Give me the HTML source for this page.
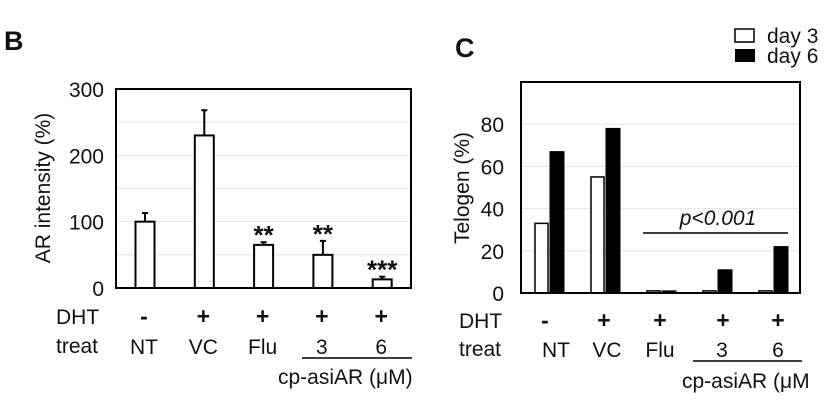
<!DOCTYPE html>
<html><head><meta charset="utf-8"><style>
html,body{margin:0;padding:0;background:#fff}
svg{display:block;font-family:"Liberation Sans",sans-serif}
</style></head><body>
<svg id="fig" width="824" height="402" viewBox="0 0 824 402" xmlns="http://www.w3.org/2000/svg"></svg>
<script>
const catsB = ["NT","VC","Flu","3","6"];
const valsB = [100,230,65,50,13];
const errB = [113,268,69,71,17];
const starsB = ["","","**","**","***"];
const ticksB = [0,100,200,300];
const gridB = [50,100,150,200,250];
const catsC = ["NT","VC","Flu","3","6"];
const day3 = [33,55,1,1,1];
const day6 = [67,78,1,11,22];
const ticksC = [0,20,40,60,80];
const dhtSigns = ["-","+","+","+","+"];

const svg = document.getElementById('fig');
const NS = "http://www.w3.org/2000/svg";
const FS = 21;
function mk(tag, attrs, parent){
  const e = document.createElementNS(NS, tag);
  for (const k in attrs) e.setAttribute(k, attrs[k]);
  (parent||svg).appendChild(e);
  return e;
}
function txt(x,y,s,size,anchor,extra){
  const t = mk('text',Object.assign({x:x,y:y,'font-size':size,'text-anchor':anchor||'middle',fill:'#111'},extra||{}));
  t.textContent = s; return t;
}

// ---------- Panel B ----------
const gB = mk('g',{});


const bL=116,bR=411,bT=89,bB=288,bMax=300;
const yB = v => bB - v/bMax*(bB-bT);
const xB = i => 145 + i*59.3;
for (const g of gridB){ const l=mk('line',{x1:bL,x2:bR,y1:yB(g),y2:yB(g),stroke:'#e4e4e4','stroke-width':1},gB);
    }
for (let i=0;i<catsB.length;i++){
  const x=xB(i);
  const e=mk('line',{x1:x,x2:x,y1:yB(errB[i]),y2:yB(valsB[i]),stroke:'#000','stroke-width':2},gB);
   
  const c=mk('line',{x1:x-3,x2:x+3,y1:yB(errB[i]),y2:yB(errB[i]),stroke:'#000','stroke-width':2},gB);
   
  const r=mk('rect',{x:x-9.5,y:yB(valsB[i]),width:19,height:bB-yB(valsB[i]),fill:'#fff',stroke:'#000','stroke-width':2},gB);
   
  if (starsB[i]){ const s=txt(x,yB(errB[i])+2,starsB[i],26,'middle',{'font-weight':'bold'}); gB.appendChild(s);
      }
}
const frB=mk('rect',{x:bL,y:bT,width:bR-bL,height:bB-bT,fill:'none',stroke:'#000','stroke-width':2},gB);
 
for (const t of ticksB){ const s=txt(104,yB(t)+8,String(t),FS,'end'); gB.appendChild(s);
    }
const ytB=txt(0,0,"AR intensity (%)",FS,'middle',{transform:'translate(50,188) rotate(-90)'});
 
const lbB=txt(4,50,"B",27,'start',{'font-weight':'bold'});
 
let d=txt(56,324,"DHT",FS,'start');  
d=txt(56,353,"treat",FS,'start');  
for (let i=0;i<catsB.length;i++){
  const x=xB(i)-1;
  let s=txt(x,324,dhtSigns[i],23,'middle',{'font-weight':'bold'});  
  s=txt(x,354,catsB[i],FS);  
}
let u=mk('line',{x1:302,x2:412,y1:358,y2:358,stroke:'#000','stroke-width':1.5});
 
u=txt(278,384,"cp-asiAR (\u03bcM)",FS,'start');  

// ---------- Panel C ----------
const gC = mk('g',{});


const cL=521,cR=800,cT=82,cB=293,cMax=100;
const yC = v => cB - v/cMax*(cB-cT);
const xC = i => 549 + i*56;
for (const g of [20,40,60,80]){ const l=mk('line',{x1:cL,x2:cR,y1:yC(g),y2:yC(g),stroke:'#e4e4e4','stroke-width':1},gC);
    }
for (let i=0;i<catsC.length;i++){
  const x=xC(i);
  const r1=mk('rect',{x:x-14,y:yC(day3[i]),width:13,height:cB-yC(day3[i]),fill:'#fff',stroke:'#000','stroke-width':1.5},gC);
   
  const r2=mk('rect',{x:x+1,y:yC(day6[i]),width:14,height:cB-yC(day6[i]),fill:'#000',stroke:'#000','stroke-width':1},gC);
   
}
const frC=mk('rect',{x:cL,y:cT,width:cR-cL,height:cB-cT,fill:'none',stroke:'#000','stroke-width':2},gC);
 
for (const t of ticksC){ const s=txt(504,yC(t)+8,String(t),FS,'end'); gC.appendChild(s);
    }
const ytC=txt(0,0,"Telogen (%)",FS,'middle',{transform:'translate(469,188) rotate(-90)'});
 
const lbC=txt(455,57,"C",27,'start',{'font-weight':'bold'});
 
let p=mk('line',{x1:643,x2:788,y1:233,y2:233,stroke:'#000','stroke-width':1.5});
 
p=txt(718,225,"p<0.001",FS,'middle',{'font-style':'italic'});
 
// legend
let lg=mk('rect',{x:735,y:29,width:19,height:13,fill:'#fff',stroke:'#000','stroke-width':1.5});
 
lg=txt(767,43,"day 3",FS,'start');  
lg=mk('rect',{x:735,y:49,width:20,height:13,fill:'#000'});
 
lg=txt(767,63,"day 6",FS,'start');  
d=txt(459,328,"DHT",FS,'start');  
d=txt(459,356,"treat",FS,'start');  
const signX=[545,604,660,723,778], catX=[556,607,660,722,778];
for (let i=0;i<catsC.length;i++){
  let s=txt(signX[i],328,dhtSigns[i],23,'middle',{'font-weight':'bold'});  
  s=txt(catX[i],357,catsC[i],FS);  
}
u=mk('line',{x1:693,x2:802,y1:361,y2:361,stroke:'#000','stroke-width':1.5});
 
u=txt(682,388,"cp-asiAR (\u03bcM",FS,'start');  
</script>
</body></html>
